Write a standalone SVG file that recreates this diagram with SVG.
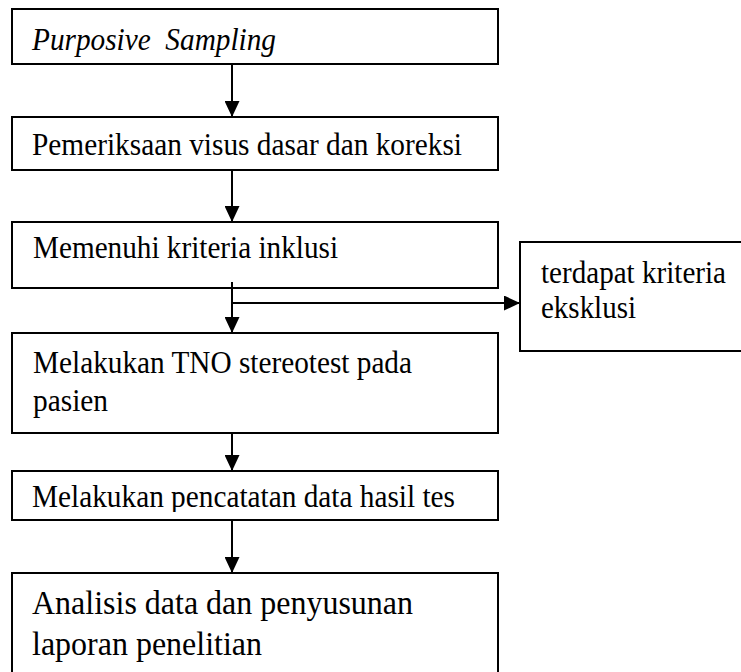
<svg xmlns="http://www.w3.org/2000/svg" width="741" height="672" viewBox="0 0 741 672">
<style>
.box{fill:#fff;stroke:#000;stroke-width:2}
.t{font-family:"Liberation Serif","Times New Roman",serif;font-size:31px;fill:#000}
.i{font-style:italic}
.big{font-size:34px}
.c{stroke:#000;stroke-width:2;fill:none;marker-end:url(#ah)}
</style>
<defs>
<marker id="ah" markerUnits="userSpaceOnUse" markerWidth="17" markerHeight="15" refX="16" refY="7.5" orient="auto" viewBox="0 0 17 15">
<path d="M0,0 L16,7.5 L0,15 z" fill="#000"/>
</marker>
<clipPath id="clip6"><rect x="12" y="470" width="486" height="42"/></clipPath>
</defs>
<rect width="741" height="672" fill="#fff"/>
<g id="n1">
<rect class="box" x="12" y="9" width="486" height="55"/>
<text class="t i" x="32" y="50" textLength="244" lengthAdjust="spacingAndGlyphs">Purposive&#160; Sampling</text>
</g>
<g id="n2">
<rect class="box" x="12" y="117" width="486" height="53"/>
<text class="t" x="32" y="155" textLength="430" lengthAdjust="spacingAndGlyphs">Pemeriksaan visus dasar dan koreksi</text>
</g>
<g id="n3">
<rect class="box" x="12" y="222" width="486" height="66"/>
<text class="t" x="33" y="258" textLength="305" lengthAdjust="spacingAndGlyphs">Memenuhi kriteria inklusi</text>
</g>
<g id="n4">
<rect class="box" x="520" y="242" width="230" height="109"/>
<text class="t" x="541" y="283" textLength="185" lengthAdjust="spacingAndGlyphs">terdapat kriteria</text>
<text class="t" x="541" y="318" textLength="95" lengthAdjust="spacingAndGlyphs">eksklusi</text>
</g>
<g id="n5">
<rect class="box" x="12" y="333" width="486" height="100"/>
<text class="t" x="33" y="373" textLength="379" lengthAdjust="spacingAndGlyphs">Melakukan TNO stereotest pada</text>
<text class="t" x="33" y="411" textLength="75" lengthAdjust="spacingAndGlyphs">pasien</text>
</g>
<g id="n6">
<rect class="box" x="12" y="471" width="486" height="49"/>
<text class="t" x="32" y="507" clip-path="url(#clip6)" textLength="423" lengthAdjust="spacingAndGlyphs">Melakukan pencatatan data hasil tes</text>
</g>
<g id="n7">
<rect class="box" x="12" y="573" width="486" height="110"/>
<text class="t big" x="32" y="614" textLength="381" lengthAdjust="spacingAndGlyphs">Analisis data dan penyusunan</text>
<text class="t big" x="32" y="655" textLength="230" lengthAdjust="spacingAndGlyphs">laporan penelitian</text>
</g>
<g id="connectors">
<line class="c" x1="232" y1="64" x2="232" y2="117"/>
<line class="c" x1="232" y1="170" x2="232" y2="222"/>
<line class="c" x1="232" y1="282" x2="232" y2="333"/>
<line class="c" x1="232" y1="303" x2="520" y2="303"/>
<line class="c" x1="232" y1="433" x2="232" y2="471"/>
<line class="c" x1="232" y1="520" x2="232" y2="573"/>
</g>
</svg>
